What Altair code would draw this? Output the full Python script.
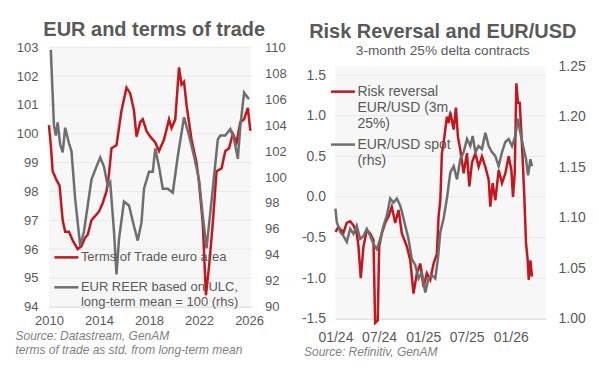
import altair as alt
import pandas as pd

# ---------------- Left panel: EUR and terms of trade ----------------
tot_year = [2010.0, 2010.15, 2010.3, 2010.6, 2010.85, 2011.1, 2011.3, 2011.6, 2011.9, 2012.3,
            2012.6, 2012.9, 2013.1, 2013.4, 2013.6, 2013.8, 2014.0, 2014.3, 2014.6, 2014.8,
            2015.0, 2015.4, 2015.8, 2016.2, 2016.5, 2016.8, 2017.0, 2017.3, 2017.5, 2017.8,
            2018.1, 2018.5, 2018.8, 2019.2, 2019.6, 2019.8, 2020.1, 2020.4, 2020.6, 2020.8,
            2021.0, 2021.4, 2021.8, 2022.0, 2022.3, 2022.55, 2022.8, 2023.1, 2023.4, 2023.8,
            2024.1, 2024.4, 2024.7, 2025.0, 2025.3, 2025.6, 2025.9, 2026.1]
tot_value = [100.3, 99.6, 98.7, 98.4, 98.2, 97.0, 96.6, 96.6, 96.3, 96.0,
             96.1, 96.4, 96.5, 97.0, 97.1, 97.2, 97.3, 97.6, 98.0, 98.6,
             99.5, 99.6, 100.8, 101.6, 101.4, 100.8, 99.9, 100.4, 100.5, 100.1,
             99.9, 99.7, 99.4, 99.8, 100.5, 100.2, 100.5, 102.3, 101.7, 101.8,
             101.0, 99.8, 99.0, 98.3, 96.9, 94.4, 95.4, 96.9, 98.7, 98.8,
             99.4, 99.5, 100.0, 99.7, 100.4, 100.5, 100.9, 100.1]

reer_year = [2010.15, 2010.4, 2010.55, 2010.7, 2010.9, 2011.1, 2011.3, 2011.6, 2011.8, 2012.1,
             2012.5, 2012.8, 2013.1, 2013.4, 2013.8, 2014.1, 2014.4, 2014.7, 2014.9, 2015.2,
             2015.4, 2015.6, 2016.0, 2016.4, 2016.8, 2017.1, 2017.4, 2017.6, 2018.0, 2018.3,
             2018.5, 2018.8, 2019.1, 2019.5, 2019.9, 2020.3, 2020.8, 2021.2, 2021.6, 2022.0,
             2022.3, 2022.6, 2023.1, 2023.5, 2023.7, 2024.1, 2024.5, 2024.8, 2025.1, 2025.3,
             2025.6, 2025.9, 2026.0]
reer_value = [109.8, 104.0, 103.2, 104.2, 102.5, 101.9, 103.8, 102.6, 102.0, 98.3,
              94.7, 95.8, 97.8, 99.8, 100.8, 101.5, 100.8, 99.3, 99.6, 95.8,
              92.5, 95.2, 98.1, 97.8, 96.2, 95.1, 96.5, 99.1, 100.4, 100.4,
              102.2, 100.8, 99.1, 99.1, 98.8, 101.6, 104.6, 103.2, 101.6, 99.8,
              97.0, 94.5, 99.1, 102.9, 103.2, 103.2, 103.7, 102.9, 101.4, 103.9,
              106.5, 106.1, 106.0]

left_x_domain = [2010, 2026.2]
left_lhs_domain = [94, 103]
left_rhs_domain = [90, 110]
left_lhs_ticks = [94, 95, 96, 97, 98, 99, 100, 101, 102, 103]
left_rhs_ticks = [90, 92, 94, 96, 98, 100, 102, 104, 106, 108, 110]
left_year_ticks = [2010, 2014, 2018, 2022, 2026]
left_series = ["Terms of Trade euro area", "EUR REER based on ULC,|long-term mean = 100 (rhs)"]

# ---------------- Right panel: Risk reversal and EUR/USD ----------------
rr_time = [2024.000, 2024.034, 2024.091, 2024.129, 2024.168, 2024.206, 2024.243, 2024.263, 2024.289, 2024.320,
           2024.358, 2024.397, 2024.434, 2024.453, 2024.483, 2024.499, 2024.529, 2024.568, 2024.606, 2024.643,
           2024.682, 2024.720, 2024.758, 2024.815, 2024.854, 2024.891, 2024.929, 2024.968, 2025.006, 2025.043,
           2025.082, 2025.120, 2025.158, 2025.177, 2025.197, 2025.215, 2025.234, 2025.272, 2025.291, 2025.311,
           2025.349, 2025.375, 2025.398, 2025.425, 2025.463, 2025.501, 2025.528, 2025.558, 2025.597, 2025.634,
           2025.672, 2025.711, 2025.749, 2025.768, 2025.794, 2025.825, 2025.863, 2025.901, 2025.939, 2025.977,
           2026.008, 2026.026, 2026.046, 2026.065, 2026.083, 2026.103, 2026.122, 2026.137, 2026.157, 2026.175,
           2026.194, 2026.206, 2026.225, 2026.243]
rr_value = [-0.43, -0.37, -0.44, -0.32, -0.30, -0.35, -0.45, -0.61, -1.00, -0.61,
            -0.41, -0.45, -0.53, -1.55, -1.52, -0.61, -0.45, -0.32, -0.24, -0.12,
            -0.32, -0.16, -0.45, -0.61, -0.78, -1.19, -0.94, -0.82, -1.11, -0.94,
            -1.02, -0.82, -0.70, -0.24, -0.04, 0.54, 0.66, 0.99, 0.91, 1.04,
            0.83, 1.10, 0.74, 0.58, 0.29, 0.54, 0.13, 0.42, 0.54, 0.37,
            0.50, 0.37, 0.21, -0.12, 0.17, -0.04, 0.33, 0.17, 0.29, 0.50,
            0.33, 0.00, 0.29, 1.40, 1.16, 1.16, 0.79, 0.46, -0.04, -0.57,
            -0.78, -1.02, -0.78, -0.98]

fx_time = [2024.000, 2024.015, 2024.054, 2024.091, 2024.129, 2024.168, 2024.206, 2024.243, 2024.282, 2024.320,
           2024.358, 2024.397, 2024.434, 2024.472, 2024.511, 2024.549, 2024.586, 2024.625, 2024.663, 2024.701,
           2024.739, 2024.758, 2024.797, 2024.834, 2024.872, 2024.911, 2024.949, 2024.986, 2025.025, 2025.063,
           2025.101, 2025.139, 2025.169, 2025.197, 2025.234, 2025.272, 2025.311, 2025.349, 2025.387, 2025.425,
           2025.463, 2025.501, 2025.539, 2025.566, 2025.597, 2025.634, 2025.672, 2025.711, 2025.749, 2025.786,
           2025.825, 2025.863, 2025.901, 2025.939, 2025.977, 2026.015, 2026.053, 2026.083, 2026.110, 2026.149,
           2026.175, 2026.198, 2026.225, 2026.243]
fx_value = [1.109, 1.096, 1.086, 1.082, 1.076, 1.089, 1.084, 1.092, 1.079, 1.082,
            1.089, 1.082, 1.074, 1.069, 1.079, 1.092, 1.102, 1.119, 1.115, 1.119,
            1.112, 1.106, 1.092, 1.079, 1.059, 1.053, 1.040, 1.046, 1.026, 1.040,
            1.043, 1.040, 1.059, 1.086, 1.099, 1.119, 1.145, 1.151, 1.138, 1.158,
            1.165, 1.178, 1.171, 1.181, 1.165, 1.171, 1.168, 1.184, 1.171, 1.165,
            1.161, 1.151, 1.165, 1.175, 1.178, 1.171, 1.181, 1.198, 1.184, 1.168,
            1.158, 1.142, 1.158, 1.151]

right_x_domain = ["2024-01-01T00:00:00", "2026-05-28T00:00:00"]
right_lhs_domain = [-1.5, 1.61]
right_rhs_domain = [1.0, 1.25]
right_lhs_ticks = [-1.5, -1.0, -0.5, 0.0, 0.5, 1.0, 1.5]
right_rhs_ticks = [1.00, 1.05, 1.10, 1.15, 1.20, 1.25]
right_month_ticks = [(2024, 1), (2024, 7), (2025, 1), (2025, 7), (2026, 1)]
right_series = ["Risk reversal|EUR/USD (3m,|25%)", "EUR/USD spot|(rhs)"]

# ---------------- styling ----------------
RED = "#c4161c"
GRAY = "#6e6e6e"
TXT = "#595959"
SRC = "#7f7f7f"
FONT = "Liberation Sans"
GRID = "#e9e9e9"
BG = "#f7f7f7"

LEFT_W, LEFT_H = 203, 260
RIGHT_W, RIGHT_H = 211, 272
RIGHT_TOP_GAP = 19  # right plot area starts lower than the left one


def to_date(t):
    ts = pd.Timestamp("2024-01-01") + pd.to_timedelta((t - 2024.0) * 365.25, unit="D")
    return ts.strftime("%Y-%m-%dT%H:%M:%S")


tot_df = pd.DataFrame({"year": tot_year, "value": tot_value, "series": left_series[0]})
reer_df = pd.DataFrame({"year": reer_year, "value": reer_value, "series": left_series[1]})
rr_df = pd.DataFrame({"date": [to_date(t) for t in rr_time], "value": rr_value, "series": right_series[0]})
fx_df = pd.DataFrame({"date": [to_date(t) for t in fx_time], "value": fx_value, "series": right_series[1]})

# ================= left panel =================
x_left_scale = alt.Scale(domain=left_x_domain, nice=False, zero=False)
x_left_axis = alt.Axis(
    values=left_year_ticks, format="d", grid=False, ticks=False, tickSize=0,
    labelFlush=False, labelOverlap=False,
    domainColor="#d9d9d9", domainWidth=1,
    labelFont=FONT, labelFontSize=13, labelColor=TXT, labelPadding=8,
    title=["Source: Datastream, GenAM", "terms of trade as std. from long-term mean"],
    titleFont=FONT, titleFontSize=12, titleFontStyle="italic", titleFontWeight="normal",
    titleColor=SRC, titleAnchor="start", titleAlign="left", titleBaseline="top",
    titleX=-34, titleY=24, titleLineHeight=14,
)
y_left_scale = alt.Scale(domain=left_lhs_domain, nice=False, zero=False)
y_left_axis = alt.Axis(
    values=left_lhs_ticks, title=None, grid=False, domain=False, ticks=False, tickSize=0,
    labelFont=FONT, labelFontSize=13, labelColor=TXT, labelPadding=11,
)

color_left = alt.Color(
    "series:N",
    scale=alt.Scale(domain=left_series, range=[RED, GRAY]),
    legend=alt.Legend(
        orient="none", legendX=4, legendY=197, title=None, direction="vertical",
        symbolType="stroke", symbolSize=576, symbolStrokeWidth=2.5,
        labelFont=FONT, labelFontSize=13, labelColor=TXT, labelOffset=1, labelLimit=400,
        labelExpr="split(datum.label, '|')", padding=0, rowPadding=9,
    ),
)

left_bg = alt.Chart(
    pd.DataFrame({"x0": [left_x_domain[0]], "x1": [left_x_domain[1]],
                  "y0": [left_lhs_domain[0]], "y1": [left_lhs_domain[1]]})
).mark_rect(color=BG).encode(
    x=alt.X("x0:Q", scale=x_left_scale, axis=x_left_axis),
    x2="x1:Q",
    y=alt.Y("y0:Q", scale=y_left_scale, axis=y_left_axis),
    y2="y1:Q",
)
left_grid = alt.Chart(pd.DataFrame({"g": left_lhs_ticks})).mark_rule(
    color=GRID, strokeWidth=1
).encode(y=alt.Y("g:Q", scale=y_left_scale, axis=y_left_axis))

tot_line = alt.Chart(tot_df).mark_line(strokeWidth=2.5).encode(
    x=alt.X("year:Q", scale=x_left_scale, axis=x_left_axis),
    y=alt.Y("value:Q", scale=y_left_scale, axis=y_left_axis),
    color=color_left,
)
reer_line = alt.Chart(reer_df).mark_line(strokeWidth=2.5).encode(
    x=alt.X("year:Q", scale=x_left_scale, axis=x_left_axis),
    y=alt.Y(
        "value:Q",
        scale=alt.Scale(domain=left_rhs_domain, nice=False, zero=False),
        axis=alt.Axis(
            orient="right", values=left_rhs_ticks, title=None, grid=False, domain=False,
            ticks=False, tickSize=0, labelFont=FONT, labelFontSize=13, labelColor=TXT,
            labelPadding=13,
        ),
    ),
    color=color_left,
)

left = alt.layer(alt.layer(left_bg, left_grid, tot_line), reer_line).resolve_scale(
    y="independent"
).properties(
    width=LEFT_W,
    height=LEFT_H,
    title=alt.TitleParams(
        text="EUR and terms of trade", anchor="middle", frame="group", fontSize=20,
        font=FONT, fontWeight="bold", color=TXT, offset=1.5, dx=4,
    ),
)

# ================= right panel =================
x_right_scale = alt.Scale(domain=right_x_domain, nice=False)
x_right_axis = alt.Axis(
    values=[alt.DateTime(year=y, month=m, date=1) for y, m in right_month_ticks],
    format="%m/%y", grid=False, ticks=False, tickSize=0,
    labelFlush=False, labelOverlap=False,
    domainColor="#d9d9d9", domainWidth=1,
    labelFont=FONT, labelFontSize=14, labelColor=TXT, labelPadding=12,
    title="Source: Refinitiv, GenAM",
    titleFont=FONT, titleFontSize=12, titleFontStyle="italic", titleFontWeight="normal",
    titleColor=SRC, titleAnchor="start", titleAlign="left", titleBaseline="top",
    titleX=-32, titleY=27.5,
)
y_right_scale = alt.Scale(domain=right_lhs_domain, range=[RIGHT_H, RIGHT_TOP_GAP], nice=False, zero=False)
y_right_axis = alt.Axis(
    values=right_lhs_ticks, title=None, grid=False, domain=False, ticks=False, tickSize=0,
    labelFont=FONT, labelFontSize=14, labelColor=TXT, labelPadding=10,
    labelExpr="replace(format(datum.value, '.1f'), '\u2212', '-')",
)

color_right = alt.Color(
    "series:N",
    scale=alt.Scale(domain=right_series, range=[RED, GRAY]),
    legend=alt.Legend(
        orient="none", legendX=-6, legendY=31, title=None, direction="vertical",
        symbolType="stroke", symbolSize=576, symbolStrokeWidth=2.5,
        labelFont=FONT, labelFontSize=14, labelColor=TXT, labelOffset=1, labelLimit=400,
        labelExpr="split(datum.label, '|')", padding=0, rowPadding=0,
    ),
)

right_bg = alt.Chart(
    pd.DataFrame({"x0": [right_x_domain[0]], "x1": [right_x_domain[1]],
                  "y0": [right_lhs_domain[0]], "y1": [right_lhs_domain[1]]})
).mark_rect(color=BG).encode(
    x=alt.X("x0:T", scale=x_right_scale, axis=x_right_axis),
    x2="x1:T",
    y=alt.Y("y0:Q", scale=y_right_scale, axis=y_right_axis),
    y2="y1:Q",
)
right_grid = alt.Chart(pd.DataFrame({"g": right_lhs_ticks})).mark_rule(
    color=GRID, strokeWidth=1
).encode(y=alt.Y("g:Q", scale=y_right_scale, axis=y_right_axis))

rr_line = alt.Chart(rr_df).mark_line(strokeWidth=2.5).encode(
    x=alt.X("date:T", scale=x_right_scale, axis=x_right_axis),
    y=alt.Y("value:Q", scale=y_right_scale, axis=y_right_axis),
    color=color_right,
)
fx_line = alt.Chart(fx_df).mark_line(strokeWidth=2.5).encode(
    x=alt.X("date:T", scale=x_right_scale, axis=x_right_axis),
    y=alt.Y(
        "value:Q",
        scale=alt.Scale(domain=right_rhs_domain, range=[RIGHT_H, RIGHT_TOP_GAP], nice=False, zero=False),
        axis=alt.Axis(
            orient="right", values=right_rhs_ticks, format=".2f", title=None, grid=False,
            domain=False, ticks=False, tickSize=0, labelFont=FONT, labelFontSize=14,
            labelColor=TXT, labelPadding=12,
        ),
    ),
    color=color_right,
)

right = alt.layer(alt.layer(right_bg, right_grid, rr_line), fx_line).resolve_scale(
    y="independent"
).properties(
    width=RIGHT_W,
    height=RIGHT_H,
    title=alt.TitleParams(
        text="Risk Reversal and EUR/USD", subtitle="3-month 25% delta contracts",
        anchor="middle", frame="group", fontSize=20, font=FONT, fontWeight="bold",
        color=TXT, subtitleFont=FONT, subtitleFontSize=13.7, subtitleColor=TXT,
        subtitlePadding=2, offset=-10.5, dx=2,
    ),
)

chart = (
    alt.hconcat(left, right, spacing=14)
    .resolve_scale(color="independent")
    .properties(padding={"left": 7, "top": 11, "right": 5, "bottom": 5}, background="white")
    .configure_view(stroke=None, fill="white")
)

chart.save("out.html", embed_options={"renderer": "svg", "actions": False})
